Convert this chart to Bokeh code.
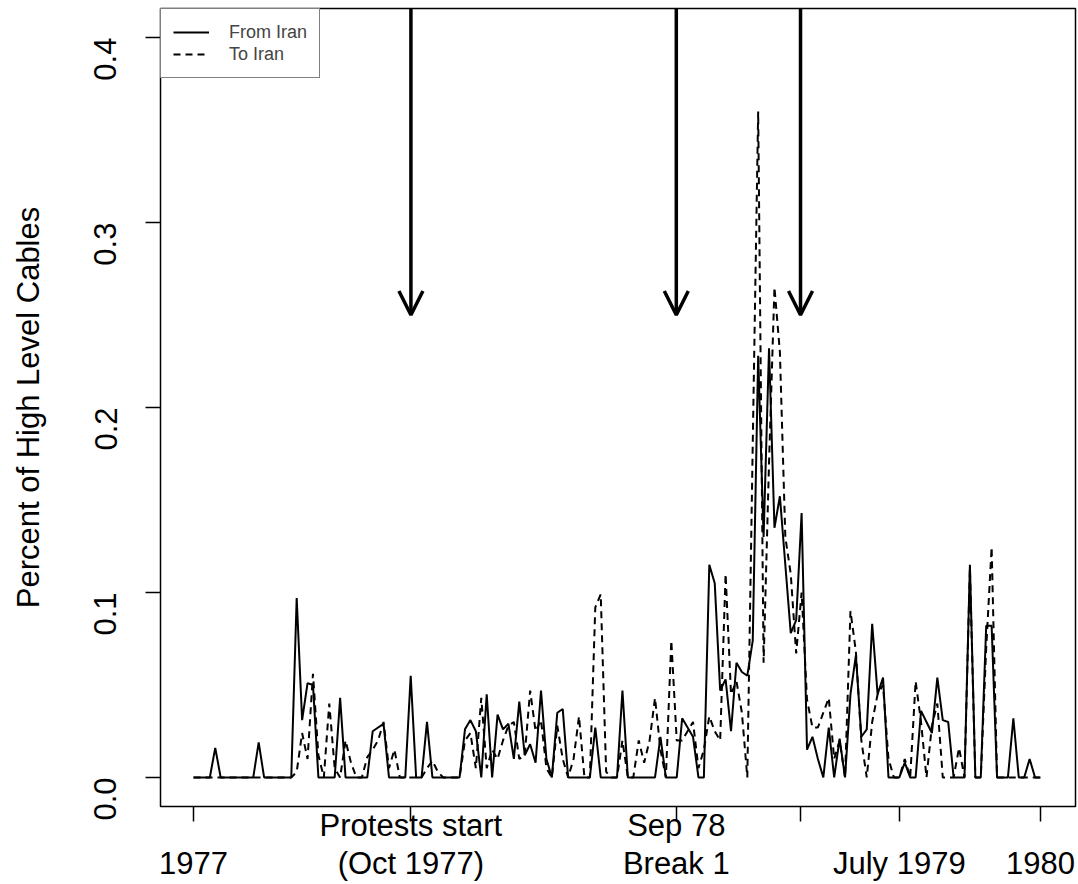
import math
from bokeh.plotting import figure
from bokeh.models import Range1d, FixedTicker, Arrow, OpenHead, Legend
from bokeh.embed import file_html
from bokeh.resources import INLINE

# weekly observations, Jan 1977 .. Dec 1979 (157 weeks)
from_iran = [
    0, 0, 0, 0, 0.016, 0, 0, 0, 0, 0,
    0, 0, 0.019, 0, 0, 0, 0, 0, 0, 0.097,
    0.031, 0.051, 0.050, 0, 0, 0, 0, 0.043, 0, 0,
    0, 0, 0, 0.025, 0.027, 0.029, 0, 0, 0, 0,
    0.055, 0, 0, 0.030, 0, 0, 0, 0, 0, 0,
    0.026, 0.031, 0.025, 0, 0.045, 0, 0.034, 0.026, 0.029, 0.010,
    0.041, 0.012, 0.018, 0.008, 0.047, 0.010, 0, 0.035, 0.037, 0,
    0, 0, 0, 0, 0.027, 0, 0, 0, 0, 0.047,
    0, 0, 0, 0, 0, 0, 0.022, 0, 0, 0,
    0.032, 0.027, 0.022, 0, 0, 0.115, 0.105, 0.047, 0.053, 0.025,
    0.062, 0.057, 0.055, 0.074, 0.228, 0.130, 0.232, 0.135, 0.152, 0.115,
    0.078, 0.085, 0.143, 0.015, 0.022, 0.010, 0, 0.027, 0, 0.021,
    0, 0.045, 0.066, 0.022, 0.026, 0.083, 0.045, 0.054, 0, 0,
    0, 0.008, 0, 0, 0.036, 0.030, 0.024, 0.054, 0.031, 0.030,
    0, 0, 0, 0.115, 0, 0, 0.082, 0.082, 0, 0,
    0, 0.032, 0, 0, 0.010, 0, 0,
]
to_iran = [
    0, 0, 0, 0, 0, 0, 0, 0, 0, 0,
    0, 0, 0, 0, 0, 0, 0, 0, 0, 0.003,
    0.024, 0.010, 0.056, 0.012, 0, 0.040, 0.005, 0, 0.020, 0.008,
    0, 0, 0.011, 0.015, 0.020, 0.030, 0.005, 0.015, 0, 0,
    0, 0, 0, 0.005, 0.009, 0.003, 0, 0, 0, 0,
    0.020, 0.024, 0.005, 0.043, 0.005, 0.015, 0.010, 0.020, 0.028, 0.030,
    0.010, 0.012, 0.047, 0.025, 0.031, 0.005, 0, 0.028, 0.010, 0,
    0.010, 0.033, 0, 0, 0.092, 0.099, 0.003, 0, 0, 0.020,
    0, 0, 0.020, 0.008, 0.020, 0.043, 0.015, 0, 0.074, 0.020,
    0.020, 0.025, 0.030, 0.005, 0.015, 0.033, 0.025, 0.020, 0.110, 0.045,
    0.052, 0.035, 0, 0.180, 0.360, 0.062, 0.170, 0.265, 0.230, 0.130,
    0.110, 0.067, 0.100, 0.042, 0.027, 0.027, 0.035, 0.043, 0.010, 0.020,
    0, 0.090, 0.068, 0.020, 0, 0.030, 0.045, 0.050, 0.010, 0,
    0, 0.010, 0, 0.052, 0.030, 0, 0.028, 0.040, 0, 0,
    0, 0.016, 0, 0.113, 0, 0, 0.070, 0.1245, 0, 0,
    0, 0, 0, 0, 0, 0, 0,
]
weeks = list(range(len(from_iran)))
dates = [1977 + w / 52 for w in weeks]

tick_dates = [1977.0, 1977.77, 1978.71, 1979.15, 1979.5, 1980.0]
tick_labels = ["\n1977", "Protests start\n(Oct 1977)", "Sep 78\nBreak 1", "", "\nJuly 1979", "\n1980"]
break_dates = [1977.77, 1978.71, 1979.15]
y_ticks = [0.0, 0.1, 0.2, 0.3, 0.4]

FONT = "Liberation Sans"

p = figure(width=1078, height=884, output_backend="svg", toolbar_location=None,
           x_range=Range1d(1976.883, 1980.124), y_range=Range1d(-0.0157, 0.4157),
           min_border_left=160, min_border_right=3, min_border_top=8, min_border_bottom=78)
p.background_fill_color = "white"
p.border_fill_color = "white"
p.outline_line_color = "black"
p.outline_line_width = 1.5
p.xgrid.visible = False
p.ygrid.visible = False

r1 = p.line(dates, from_iran, line_color="black", line_width=2)
r2 = p.line(dates, to_iran, line_color="black", line_width=2, line_dash="7 5")

for bd in break_dates:
    p.add_layout(Arrow(x_start=bd, y_start=0.4205, x_end=bd, y_end=0.25,
                       line_width=3.5, line_color="black",
                       end=OpenHead(size=24, line_width=3.5, line_color="black")))

xa = p.xaxis[0]
xa.ticker = FixedTicker(ticks=tick_dates)
xa.major_label_overrides = {t: l for t, l in zip(tick_dates, tick_labels)}
xa.axis_line_color = None
xa.major_tick_out = 15
xa.major_tick_in = 0
xa.major_tick_line_width = 1.5
xa.minor_tick_line_color = None
xa.major_label_text_font = FONT
xa.major_label_text_font_size = "31px"
xa.major_label_text_line_height = 1.1
xa.major_label_text_color = "black"
xa.major_label_standoff = -14

ya = p.yaxis[0]
ya.ticker = FixedTicker(ticks=y_ticks)
ya.major_label_overrides = {t: f"{t:.1f}" for t in y_ticks}
ya.axis_line_color = None
ya.major_tick_out = 15
ya.major_tick_in = 0
ya.major_tick_line_width = 1.5
ya.minor_tick_line_color = None
ya.major_label_orientation = math.pi / 2
ya.major_label_text_font = FONT
ya.major_label_text_font_size = "31px"
ya.major_label_text_color = "black"
ya.major_label_standoff = 40
ya.axis_label = "Percent of High Level Cables"
ya.axis_label_text_font = FONT
ya.axis_label_text_font_size = "31px"
ya.axis_label_text_font_style = "normal"
ya.axis_label_text_color = "black"
ya.axis_label_standoff = 35

legend = Legend(items=[("From Iran", [r1]), ("To Iran", [r2])], location="top_left")
legend.margin = 0
legend.padding = 12
legend.spacing = 0
legend.label_height = 22
legend.glyph_height = 22
legend.glyph_width = 36
legend.label_standoff = 20
legend.label_text_font = FONT
legend.label_text_font_size = "18px"
legend.border_line_color = "black"
legend.border_line_width = 1.5
legend.background_fill_alpha = 1
p.add_layout(legend)

open("out.html", "w").write(file_html(p, INLINE))
